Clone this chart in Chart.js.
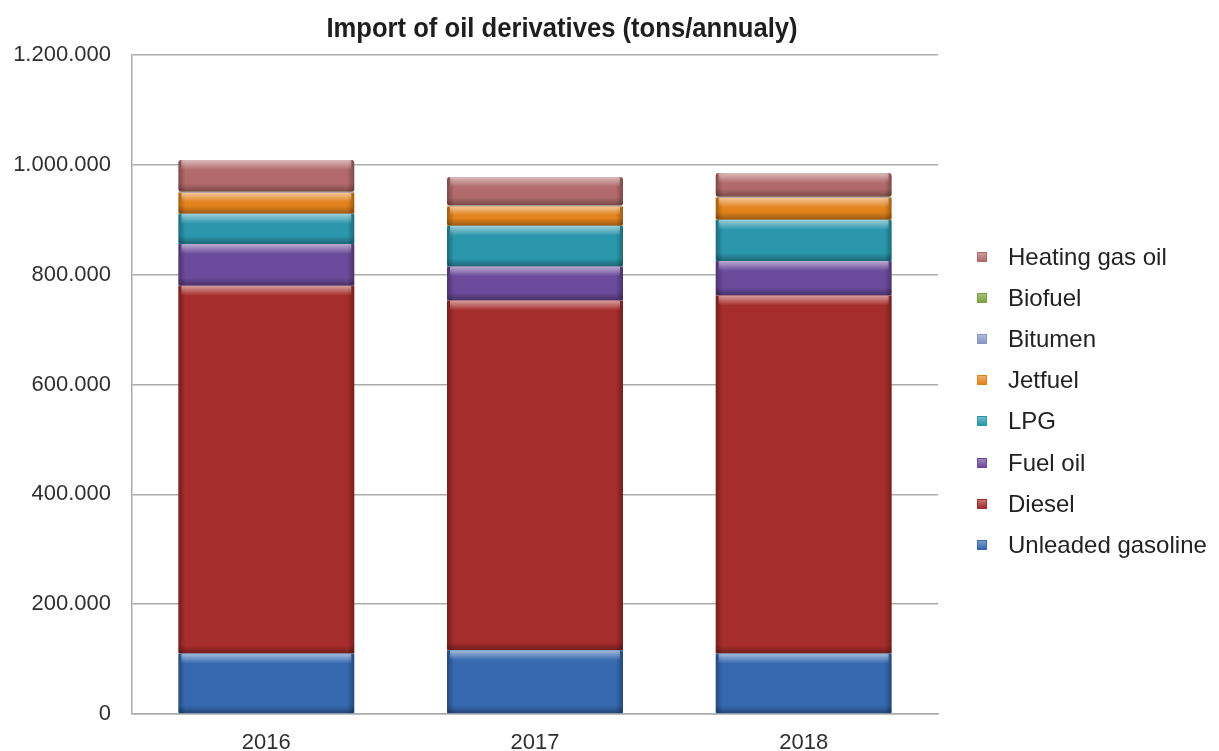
<!DOCTYPE html>
<html>
<head>
<meta charset="utf-8">
<title>Import of oil derivatives</title>
<script src="https://cdn.jsdelivr.net/npm/chart.js@4"></script>
<style>
    html, body { margin: 0; padding: 0; background: #ffffff; }
    .wrap { position: relative; width: 1219px; height: 751px; overflow: hidden; }
    .wrap canvas { position: absolute; left: 0; top: 0; }
    .chart-title {
        position: absolute; left: 562px; top: 14px;
        transform: translateX(-50%) scaleX(0.915);
        font: bold 28px 'Liberation Sans', Arial, sans-serif; line-height: 28px;
        color: #1e1e1e; white-space: nowrap;
    }
    .legend { position: absolute; left: 977px; top: 236px; }
    .legend-row { display: flex; align-items: center; height: 41.2px; line-height: 41.2px; }
    .legend-box { width: 10px; height: 10px; margin-right: 21px; box-sizing: border-box; }
    .legend-text { font: 24px 'Liberation Sans', Arial, sans-serif; color: #222222; white-space: nowrap; }
</style>
</head>
<body>
<div class="wrap">
    <canvas id="importChart" width="1219" height="751"></canvas>
    <div class="chart-title">Import of oil derivatives (tons/annualy)</div>
    <div class="legend" id="importLegend"></div>
</div>
<script>
const years = ['2016', '2017', '2018'];

// tons per year, stacked bottom to top
const unleadedGasoline = [110000, 116000, 110000];
const diesel           = [670000, 637000, 652000];
const fuelOil          = [76000, 62000, 63000];
const lpg              = [55000, 74000, 75000];
const jetfuel          = [38000, 35000, 40000];
const bitumen          = [1500, 1500, 1500];
const biofuel          = [500, 500, 500];
const heatingGasOil    = [58000, 52000, 43000];

const yTicks = [0, 200000, 400000, 600000, 800000, 1000000, 1200000];

const series = [
    { label: 'Unleaded gasoline', data: unleadedGasoline, color: '#3669b0' },
    { label: 'Diesel',            data: diesel,           color: '#a52d2b' },
    { label: 'Fuel oil',          data: fuelOil,          color: '#6b4a9b' },
    { label: 'LPG',               data: lpg,              color: '#2b97ad' },
    { label: 'Jetfuel',           data: jetfuel,          color: '#e4831c' },
    { label: 'Bitumen',           data: bitumen,          color: '#8896c4' },
    { label: 'Biofuel',           data: biofuel,          color: '#7ba23f' },
    { label: 'Heating gas oil',   data: heatingGasOil,    color: '#b26a6a' }
];

const gridColor = '#ababab';
const fmt = v => Number(v).toLocaleString('de-DE');

// glossy look: dark side edges, light band on top, darker band at the bottom
const bevel = {
    id: 'bevel',
    afterDatasetsDraw(chart) {
        const ctx = chart.ctx;
        chart.data.datasets.forEach((ds, i) => {
            chart.getDatasetMeta(i).data.forEach(bar => {
                const { x, y, base, width } = bar.getProps(['x', 'y', 'base', 'width'], true);
                const h = base - y;
                if (h < 3) return;
                const left = x - width / 2;
                ctx.save();
                ctx.beginPath();
                ctx.roundRect(left, y, width, h, 3);
                ctx.clip();

                let g = ctx.createLinearGradient(left, 0, left + width, 0);
                g.addColorStop(0, 'rgba(0,0,0,0.3)');
                g.addColorStop(0.04, 'rgba(0,0,0,0)');
                g.addColorStop(0.96, 'rgba(0,0,0,0)');
                g.addColorStop(1, 'rgba(0,0,0,0.3)');
                ctx.fillStyle = g;
                ctx.fillRect(left, y, width, h);

                const top = Math.min(10, h * 0.45);
                g = ctx.createLinearGradient(0, y, 0, y + top);
                g.addColorStop(0, 'rgba(255,255,255,0.55)');
                g.addColorStop(1, 'rgba(255,255,255,0)');
                ctx.fillStyle = g;
                ctx.fillRect(left + 3, y, width - 6, top);

                const bottom = Math.min(8, h * 0.4);
                g = ctx.createLinearGradient(0, base - bottom, 0, base);
                g.addColorStop(0, 'rgba(0,0,0,0)');
                g.addColorStop(1, 'rgba(0,0,0,0.32)');
                ctx.fillStyle = g;
                ctx.fillRect(left, base - bottom, width, bottom);
                ctx.restore();
            });
        });
    }
};

function renderLegend() {
    const box = document.getElementById('importLegend');
    series.slice().reverse().forEach(s => {
        const row = document.createElement('div');
        row.className = 'legend-row';
        row.innerHTML = `
            <span class="legend-box" style="background:linear-gradient(${s.color}aa, ${s.color});border:1px solid ${s.color};"></span>
            <span class="legend-text">${s.label}</span>`;
        box.appendChild(row);
    });
}

const ctx = document.getElementById('importChart').getContext('2d');
const chart = new Chart(ctx, {
    type: 'bar',
    data: {
        labels: years,
        datasets: series.map(s => ({
            label: s.label,
            data: s.data,
            backgroundColor: s.color,
            borderWidth: 0,
            borderRadius: 3,
            borderSkipped: false,
            barPercentage: 0.655,
            categoryPercentage: 1
        }))
    },
    options: {
        responsive: false,
        animation: false,
        layout: { padding: { left: 0, right: 281, top: 55, bottom: 0 } },
        plugins: { legend: { display: false }, title: { display: false }, tooltip: { enabled: false } },
        scales: {
            x: {
                stacked: true,
                grid: { display: false, drawTicks: false },
                border: { color: gridColor, width: 1.5 },
                ticks: { color: '#303030', padding: 16, font: { family: "'Liberation Sans'", size: 22 } },
                afterFit(scale) { scale.height = 37; }
            },
            y: {
                stacked: true,
                min: 0,
                max: yTicks[yTicks.length - 1],
                grid: { color: gridColor, lineWidth: 1.5, drawTicks: false },
                border: { color: gridColor, width: 1.5 },
                ticks: {
                    color: '#303030',
                    padding: 21,
                    stepSize: yTicks[1] - yTicks[0],
                    font: { family: "'Liberation Sans'", size: 22 },
                    callback: v => fmt(v)
                },
                afterFit(scale) { scale.width = 132; }
            }
        }
    },
    plugins: [bevel]
});

renderLegend();
</script>
</body>
</html>
